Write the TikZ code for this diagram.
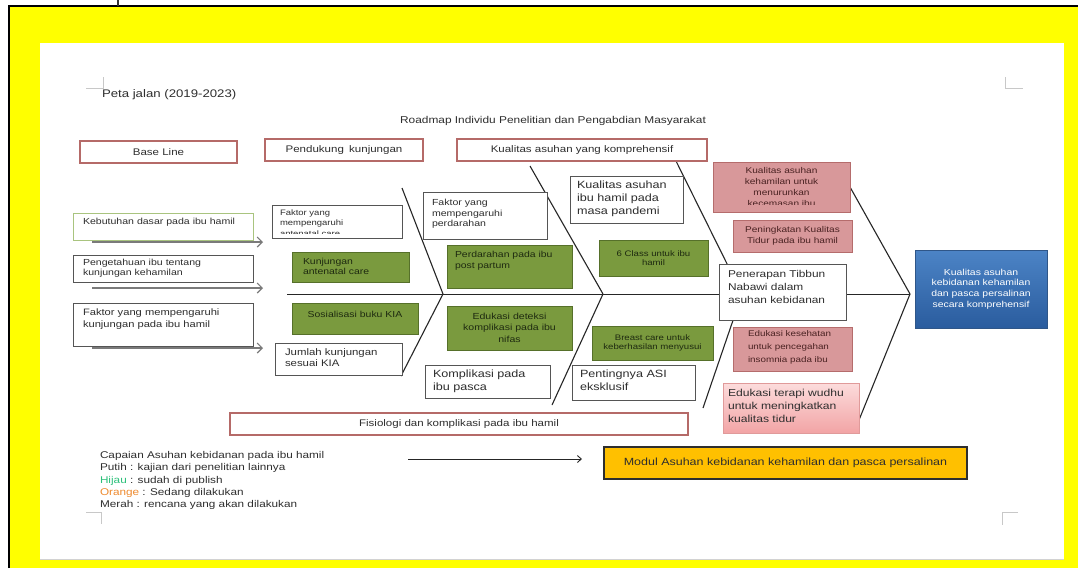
\documentclass[tikz,border=0pt]{standalone}
\usepackage{fontspec}
\setmainfont[FakeStretch=1.2]{Liberation Sans}
\usetikzlibrary{arrows.meta}

\definecolor{frameyellow}{HTML}{FFFF00}
\definecolor{hdrred}{HTML}{B56A68}
\definecolor{boxgray}{HTML}{555555}
\definecolor{leafgreen}{HTML}{A9C47F}
\definecolor{olivefill}{HTML}{7A9A3E}
\definecolor{olivedraw}{HTML}{56702A}
\definecolor{rosefill}{HTML}{D8989A}
\definecolor{rosedraw}{HTML}{B56C6C}
\definecolor{pinktop}{HTML}{FCDCDC}
\definecolor{pinkbot}{HTML}{F2A4A5}
\definecolor{pinkedge}{HTML}{E09A9A}
\definecolor{bluetop}{HTML}{4C84C6}
\definecolor{bluebot}{HTML}{2A5C9E}
\definecolor{bluedraw}{HTML}{2F5688}
\definecolor{amber}{HTML}{FFC000}
\definecolor{legendgreen}{HTML}{2CC07A}
\definecolor{legendorange}{HTML}{EE8A2E}
\definecolor{inkdark}{HTML}{2E2E2E}
\definecolor{inkred}{HTML}{4A2222}
\definecolor{inkolive}{HTML}{1E2A10}
\definecolor{cropgray}{HTML}{C8C8C8}
\definecolor{bonegray}{HTML}{262626}
\definecolor{feedgray}{HTML}{7A7A7A}

% box given by its corners: name, style, x1, y1, x2, y2, text
\newcommand\cornerbox[7]{%
  \node[#2, minimum width={#5-#3}, minimum height={#6-#4}] (#1)
    at ({(#3+#5)/2},{(#4+#6)/2}) {#7};}

\begin{document}
\begin{tikzpicture}[x=1pt, y=-1pt,
  every node/.style={inner sep=0pt, outer sep=0pt},
  hdr/.style={draw=hdrred, line width=1.1pt, fill=white,
    font=\fontsize{9.6}{11}\selectfont, text=inkdark},
  wbox/.style={draw=boxgray, line width=0.9pt, fill=white},
  leafbox/.style={draw=leafgreen, line width=0.9pt, fill=white},
  gbox/.style={draw=olivedraw, line width=1pt, fill=olivefill},
  rbox/.style={draw=rosedraw, line width=1pt, fill=rosefill},
  pbox/.style={draw=pinkedge, line width=0.9pt, top color=pinktop, bottom color=pinkbot},
  bbox/.style={draw=bluedraw, line width=1pt, top color=bluetop, bottom color=bluebot,
    text=white, align=center, font=\fontsize{8.7}{10.6}\selectfont},
  obox/.style={draw=inkdark, line width=2pt, fill=amber,
    font=\fontsize{10.4}{12}\selectfont, text=inkdark},
  bone/.style={draw=bonegray, line width=1.1pt, line join=round},
  spine/.style={draw=bonegray, line width=1pt},
  feed/.style={draw=feedgray, line width=2.2pt,
    -{Straight Barb[length=5pt, width=10pt, line width=1.1pt]}},
  legarrow/.style={draw=bonegray, line width=0.9pt,
    -{Straight Barb[length=4pt, width=7pt]}},
  crop/.style={draw=cropgray, line width=0.8pt},
  tsm/.style={font=\fontsize{8.8}{10.5}\selectfont, text=inkdark, align=left},
  tsmc/.style={font=\fontsize{8.8}{11.5}\selectfont, text=inkolive, align=center},
  tgr/.style={font=\fontsize{8.7}{10.5}\selectfont, text=inkolive, align=left},
  txs/.style={font=\fontsize{7.9}{10.2}\selectfont, text=inkdark, align=left},
  txsc/.style={font=\fontsize{8}{9.6}\selectfont, text=inkolive, align=center},
  tmid/.style={font=\fontsize{9.5}{11}\selectfont, text=inkdark, align=left},
  tlg/.style={font=\fontsize{10.5}{12.8}\selectfont, text=inkdark, align=left},
  tbig/.style={font=\fontsize{9.9}{13}\selectfont, text=inkdark, align=left},
  tred/.style={font=\fontsize{8.4}{11}\selectfont, text=inkred, align=center},
  tredl/.style={font=\fontsize{8.2}{13}\selectfont, text=inkred, align=left},
  tleg/.style={font=\fontsize{9.8}{12.3}\selectfont, text=inkdark, align=left},
]
\useasboundingbox (0,0) rectangle (1078,568);

% page frame and sheet
\fill[frameyellow] (9,6) rectangle (1078,568);
\fill[white] (40,43) rectangle (1064,560);
\draw[gray!35, line width=1pt] (40,559.5) -- (1064,559.5);
\draw[black, line width=2.4pt] (9,568) -- (9,6) -- (1078,6);
\draw[black!80, line width=1.6pt] (118,0) -- (118,6);

% sheet corner marks
\draw[crop] (86,88) -- (103,88) -- (103,77);
\draw[crop] (1005,77) -- (1005,88) -- (1023,88);
\draw[crop] (86,512) -- (101,512) -- (101,524);
\draw[crop] (1018,512) -- (1002,512) -- (1002,525);

% titles
\node[font=\fontsize{11}{13}\selectfont, text=inkdark, anchor=west] (peta) at (102,95) {Peta jalan (2019-2023)};
\node[font=\fontsize{9.9}{12}\selectfont, text=inkdark] (title) at (553,121)
  {Roadmap Individu Penelitian dan Pengabdian Masyarakat};

% fishbone skeleton
\coordinate (spineTail) at (287,294);
\coordinate (b1top) at (402,188); \coordinate (tip1) at (443,294); \coordinate (b1bot) at (401,376);
\coordinate (b2top) at (530,166); \coordinate (tip2) at (603,294); \coordinate (b2bot) at (552,405);
\coordinate (b3top) at (676,161); \coordinate (tip3) at (742,294); \coordinate (b3bot) at (703,408);
\coordinate (b4top) at (850,187); \coordinate (tip4) at (910,294); \coordinate (b4bot) at (859,420);
\draw[spine] (spineTail) -- (tip4);
\draw[bone] (b1top) -- (tip1) -- (b1bot);
\draw[bone] (b2top) -- (tip2) -- (b2bot);
\draw[bone] (b3top) -- (tip3) -- (b3bot);
\draw[bone] (b4top) -- (tip4) -- (b4bot);

% category headers
\cornerbox{hdrBase}{hdr}{80}{141}{237}{163}{Base Line}
\cornerbox{hdrSupport}{hdr}{265}{139}{423}{161}{Pendukung\hspace{0.55em}kunjungan}
\cornerbox{hdrQuality}{hdr}{457}{139}{707}{161}{Kualitas asuhan yang komprehensif}
\cornerbox{hdrPhys}{hdr}{230}{413}{688}{435}{Fisiologi dan komplikasi pada ibu hamil}

% base line column
\cornerbox{needs}{leafbox}{73}{213}{253}{240}{}
\cornerbox{knowledge}{wbox}{73}{255}{253}{282}{}
\cornerbox{factors}{wbox}{73}{303}{253}{346}{}
\node[tsm, anchor=west] (needs-t) at (83,222) {Kebutuhan dasar pada ibu hamil};
\node[tsm, anchor=west] (knowledge-t) at (83,268) {Pengetahuan ibu tentang\\kunjungan kehamilan};
\node[font=\fontsize{9.3}{12}\selectfont, text=inkdark, align=left, anchor=west] (factors-t) at (83,319)
  {Faktor yang mempengaruhi\\kunjungan pada ibu hamil};

\coordinate (needsTail) at (92,242);      \coordinate (needsTip) at (263,242);
\coordinate (knowledgeTail) at (92,288);  \coordinate (knowledgeTip) at (263,288);
\coordinate (factorsTail) at (92,348);    \coordinate (factorsTip) at (263,348);
\draw[feed] (needsTail) -- (needsTip);
\draw[feed] (knowledgeTail) -- (knowledgeTip);
\draw[feed] (factorsTail) -- (factorsTip);

% visit support column
\cornerbox{visitFactors}{wbox}{272}{205}{402}{238}{}
\begin{scope}
  \clip (273,206) rectangle (401,233);
  \node[txs, anchor=north west] (visitFactors-t) at (280,210) {Faktor yang\\mempengaruhi\\antenatal care};
\end{scope}
\cornerbox{anc}{gbox}{292}{252}{409}{282}{}
\node[tgr, anchor=west] (anc-t) at (303,266.5) {Kunjungan\\antenatal care};
\cornerbox{kia}{gbox}{292}{303}{418}{334}{}
\node[tgr] (kia-t) at (355,314) {Sosialisasi buku KIA};
\cornerbox{visitCount}{wbox}{275}{343}{402}{375}{}
\node[tmid, anchor=west] (visitCount-t) at (285,358) {Jumlah kunjungan\\sesuai KIA};

% bleeding and complication column
\cornerbox{bleedFactors}{wbox}{423}{192}{547}{239}{}
\node[tsm, anchor=west] (bleedFactors-t) at (432,214) {Faktor yang\\mempengaruhi\\perdarahan};
\cornerbox{postpartum}{gbox}{447}{245}{572}{288}{}
\node[tgr, anchor=west] (postpartum-t) at (455,260.5) {Perdarahan pada ibu\\post partum};
\cornerbox{nifas}{gbox}{447}{306}{572}{350}{}
\node[tsmc] (nifas-t) at (509.5,327.5) {Edukasi deteksi\\komplikasi pada ibu\\nifas};
\cornerbox{complication}{wbox}{425}{365}{550}{398}{}
\node[tlg, anchor=west] (complication-t) at (433,381.5) {Komplikasi pada\\ibu pasca};

% quality of care column
\cornerbox{pandemic}{wbox}{570}{176}{683}{223}{}
\node[tlg, anchor=west] (pandemic-t) at (577,199) {Kualitas asuhan\\ibu hamil pada\\masa pandemi};
\cornerbox{sixclass}{gbox}{599}{240}{708}{276}{}
\node[txsc] (sixclass-t) at (653.5,258) {6 Class untuk ibu\\hamil};
\cornerbox{breast}{gbox}{592}{326}{713}{360}{}
\node[txsc] (breast-t) at (652.5,343) {Breast care untuk\\keberhasilan menyusui};
\cornerbox{asi}{wbox}{572}{365}{695}{400}{}
\node[tlg, anchor=west] (asi-t) at (580,380.5) {Pentingnya ASI\\eksklusif};

% planned work column
\cornerbox{anxiety}{rbox}{713}{162}{850}{212}{}
\begin{scope}
  \clip (714,163) rectangle (849,204);
  \node[tred, anchor=north] (anxiety-t) at (781.5,167.5) {Kualitas asuhan\\kehamilan untuk\\menurunkan\\kecemasan ibu};
\end{scope}
\cornerbox{sleep}{rbox}{733}{220}{852}{252}{}
\node[tred] (sleep-t) at (792.5,236) {Peningkatan Kualitas\\Tidur pada ibu hamil};
\cornerbox{tibbun}{wbox}{719}{264}{846}{320}{}
\node[tbig, anchor=west] (tibbun-t) at (728,287) {Penerapan Tibbun\\Nabawi dalam\\asuhan kebidanan};
\cornerbox{insomnia}{rbox}{733}{327}{852}{371}{}
\node[tredl, anchor=west] (insomnia-t) at (748,347.5) {Edukasi kesehatan\\untuk pencegahan\\insomnia pada ibu};
\cornerbox{wudhu}{pbox}{723}{383}{859}{433}{}
\node[font=\fontsize{10.1}{13}\selectfont, text=inkdark, align=left, anchor=west] (wudhu-t) at (728,406)
  {Edukasi terapi wudhu\\untuk meningkatkan\\kualitas tidur};

% head of the fishbone
\cornerbox{goal}{bbox}{915}{250}{1047}{328}
  {Kualitas asuhan\\kebidanan kehamilan\\dan pasca persalinan\\secara komprehensif}

% legend and outcome
\node[tleg, anchor=west] (legend) at (100,480.5)
  {Capaian Asuhan kebidanan pada ibu hamil\\
   Putih : kajian dari penelitian lainnya\\
   \textcolor{legendgreen}{Hijau} : sudah di publish\\
   \textcolor{legendorange}{Orange} : Sedang dilakukan\\
   Merah : rencana yang akan dilakukan};
\cornerbox{module}{obox}{604}{447}{967}{479}{Modul Asuhan kebidanan kehamilan dan pasca persalinan}
\coordinate (legendTail) at (408,459);
\draw[legarrow, shorten >=22pt] (legendTail) -- (legendTail -| module.west);

\end{tikzpicture}
\end{document}
